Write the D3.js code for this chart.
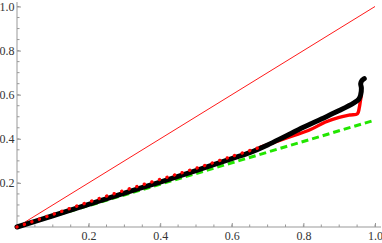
<!DOCTYPE html>
<html>
<head>
<meta charset="utf-8">
<script src="https://cdn.jsdelivr.net/npm/d3@7"></script>
<style>
  body { margin: 0; background: #fff; }
  svg { display: block; }
  .tick text { font-family: "Liberation Serif", "DejaVu Serif", serif; font-size: 12px; fill: #333; }
</style>
</head>
<body>
<script>
// values
const blackX = [0, 0.1, 0.2, 0.3, 0.4, 0.5, 0.6, 0.65, 0.7, 0.75, 0.8, 0.85, 0.9, 0.94, 0.955, 0.96, 0.962, 0.96, 0.964, 0.97];
const blackY = [0, 0.051, 0.103, 0.154, 0.204, 0.256, 0.31, 0.337, 0.372, 0.412, 0.452, 0.49, 0.528, 0.562, 0.58, 0.6, 0.63, 0.65, 0.665, 0.673];

const redDotX = [0, 0.1, 0.2, 0.3, 0.4, 0.5, 0.6, 0.68];
const redDotY = [0, 0.057, 0.113, 0.166, 0.216, 0.266, 0.32, 0.362];
const redX = [0.68, 0.72, 0.77, 0.82, 0.86, 0.9, 0.93, 0.951, 0.956, 0.959, 0.962];
const redY = [0.362, 0.385, 0.413, 0.442, 0.475, 0.497, 0.508, 0.514, 0.54, 0.57, 0.6];

const greenX = [0, 1];
const greenY = [0, 0.485];

const diagX = [0, 1];
const diagY = [0, 1];

const tickVals = [0.2, 0.4, 0.6, 0.8, 1.0];
const minorVals = d3.range(0.05, 1.001, 0.05);

const width = 382, height = 243;
const x = d3.scaleLinear().domain([0, 1]).range([17, 375]);
const y = d3.scaleLinear().domain([0, 1]).range([227, 6.5]);

const svg = d3.select('body').append('svg')
  .attr('width', width)
  .attr('height', height);

const zip = (xs, ys) => xs.map((v, i) => [v, ys[i]]);
const smooth = d3.line().x(d => x(d[0])).y(d => y(d[1])).curve(d3.curveCatmullRom);
const straight = d3.line().x(d => x(d[0])).y(d => y(d[1]));

// axes
const xAxis = d3.axisBottom(x).tickValues(tickVals).tickFormat(d3.format('.1f')).tickSize(-4).tickPadding(4.5);
const yAxis = d3.axisLeft(y).tickValues(tickVals).tickFormat(d3.format('.1f')).tickSize(-4).tickPadding(2.5);

const gx = svg.append('g').attr('transform', `translate(0,${y(0)})`).call(xAxis);
const gy = svg.append('g').attr('transform', `translate(${x(0)},0)`).call(yAxis);
[gx, gy].forEach(g => {
  g.select('.domain').attr('stroke', '#999');
  g.selectAll('.tick line').attr('stroke', '#999');
});
gx.select('.domain').attr('d', `M${x(0)},0H${width - 1}`);
gy.select('.domain').attr('d', `M0,${y(0)}V2`);

// minor ticks
svg.append('g').selectAll('line').data(minorVals).join('line')
  .attr('x1', d => x(d)).attr('x2', d => x(d))
  .attr('y1', y(0)).attr('y2', y(0) - 2.5)
  .attr('stroke', '#999');
svg.append('g').selectAll('line').data(minorVals).join('line')
  .attr('y1', d => y(d)).attr('y2', d => y(d))
  .attr('x1', x(0)).attr('x2', x(0) + 2.5)
  .attr('stroke', '#999');

// y = x
svg.append('path').datum(zip(diagX, diagY))
  .attr('d', straight).attr('fill', 'none')
  .attr('stroke', '#f00').attr('stroke-width', 0.9);

// green dashed
svg.append('path').datum(zip(greenX, greenY))
  .attr('d', straight).attr('fill', 'none')
  .attr('stroke', '#22e600').attr('stroke-width', 3)
  .attr('stroke-dasharray', '7,4');

// red, dense part (under the black curve)
svg.append('path').datum(zip(redX, redY))
  .attr('d', smooth).attr('fill', 'none')
  .attr('stroke', '#f00').attr('stroke-width', 3.4)
  .attr('stroke-linecap', 'round').attr('stroke-linejoin', 'round');

// black curve
svg.append('path').datum(zip(blackX, blackY))
  .attr('d', smooth).attr('fill', 'none')
  .attr('stroke', '#000').attr('stroke-width', 5)
  .attr('stroke-linecap', 'round').attr('stroke-linejoin', 'round');

// red, sparse points
svg.append('path').datum(zip(redDotX, redDotY))
  .attr('d', smooth).attr('fill', 'none')
  .attr('stroke', '#f00').attr('stroke-width', 3.4)
  .attr('stroke-linecap', 'round')
  .attr('stroke-dasharray', '0.1,7.8');
</script>
</body>
</html>
